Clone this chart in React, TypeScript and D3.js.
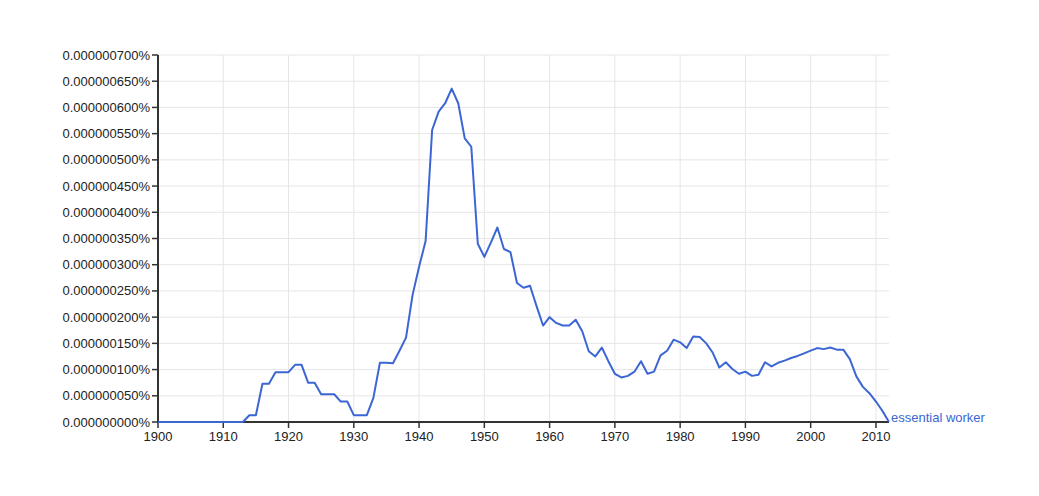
import React from "react";
import * as d3 from "d3";

const START_YEAR = 1900;
const END_YEAR = 2012;
const SERIES_NAME = "essential worker";
// values in units of 1e-9 percent
const values: number[] = [
  0, 0, 0, 0, 0, 0, 0, 0, 0, 0, // 1900-1909
  0, 0, 0, 0, 13, 13, 73, 73, 95, 95, // 1910-1919
  95, 109, 109, 75, 75, 53, 53, 53, 39, 39, // 1920-1929
  13, 13, 13, 46, 113, 113, 112, 136, 161, 242, // 1930-1939
  296, 345, 557, 592, 608, 636, 608, 541, 525, 340, // 1940-1949
  315, 342, 371, 330, 324, 265, 256, 260, 221, 184, // 1950-1959
  200, 189, 184, 184, 195, 173, 135, 125, 142, 116, // 1960-1969
  92, 85, 88, 96, 116, 92, 96, 127, 136, 157, // 1970-1979
  152, 141, 163, 162, 150, 132, 104, 114, 101, 92, // 1980-1989
  96, 88, 90, 114, 106, 113, 117, 122, 126, 131, // 1990-1999
  136, 141, 139, 142, 138, 138, 120, 87, 67, 55, // 2000-2009
  39, 21, 0, // 2010-2012
];
const yTicks: number[] = [0, 50, 100, 150, 200, 250, 300, 350, 400, 450, 500, 550, 600, 650, 700];
const xTicks: number[] = [1900, 1910, 1920, 1930, 1940, 1950, 1960, 1970, 1980, 1990, 2000, 2010];

const W = 1039;
const H = 496;
const M = { left: 158, right: 150, top: 55, bottom: 74 };
const FONT = "'Liberation Sans', Arial, Helvetica, sans-serif";
const LINE = "#3b66d4";

export default function App() {
  const years = d3.range(START_YEAR, END_YEAR + 1);
  const data = years.map((y, i) => ({ year: y, v: values[i] }));
  const x = d3.scaleLinear().domain([START_YEAR, END_YEAR]).range([M.left, W - M.right]);
  const y = d3.scaleLinear().domain([0, 700]).range([H - M.bottom, M.top]);
  const line = d3
    .line<{ year: number; v: number }>()
    .x((d) => x(d.year))
    .y((d) => y(d.v));
  const fmt = (v: number) => (v * 1e-9).toFixed(9) + "%";
  const last = data[data.length - 1];
  const x0 = M.left;
  const x1 = W - M.right;
  const y0 = H - M.bottom;
  const y1 = M.top;

  return (
    <svg
      width={W}
      height={H}
      style={{ position: "absolute", left: 0, top: 0, background: "#fff" }}
      fontFamily={FONT}
    >
      <rect x={0} y={0} width={W} height={H} fill="#fff" />
      {/* grid */}
      {yTicks.map((t) => (
        <line key={"gy" + t} x1={x0} x2={x1} y1={y(t)} y2={y(t)} stroke="#e6e6e6" strokeWidth={1} />
      ))}
      {xTicks.map((t) => (
        <line key={"gx" + t} x1={x(t)} x2={x(t)} y1={y0} y2={y1} stroke="#e6e6e6" strokeWidth={1} />
      ))}
      {/* axes */}
      <line x1={x0} x2={x0} y1={y1} y2={y0 + 1} stroke="#333" strokeWidth={2} />
      <line x1={x0 - 1} x2={x1} y1={y0} y2={y0} stroke="#333" strokeWidth={2} />
      {yTicks.map((t) => (
        <g key={"ty" + t}>
          <line x1={x0 - 6} x2={x0} y1={y(t)} y2={y(t)} stroke="#333" strokeWidth={1.5} />
          <text x={x0 - 8} y={y(t)} dy="0.35em" textAnchor="end" fontSize={13} fill="#222">
            {fmt(t)}
          </text>
        </g>
      ))}
      {xTicks.map((t) => (
        <g key={"tx" + t}>
          <line x1={x(t)} x2={x(t)} y1={y0} y2={y0 + 6} stroke="#333" strokeWidth={1.5} />
          <text x={x(t)} y={y0 + 19} textAnchor="middle" fontSize={13} fill="#222">
            {t}
          </text>
        </g>
      ))}
      {/* series */}
      <path d={line(data) || ""} fill="none" stroke={LINE} strokeWidth={2} strokeLinejoin="round" />
      <text x={x(last.year) + 2} y={y(last.v) - 5} dy="0.35em" fontSize={13} fill={LINE}>
        {SERIES_NAME}
      </text>
    </svg>
  );
}
